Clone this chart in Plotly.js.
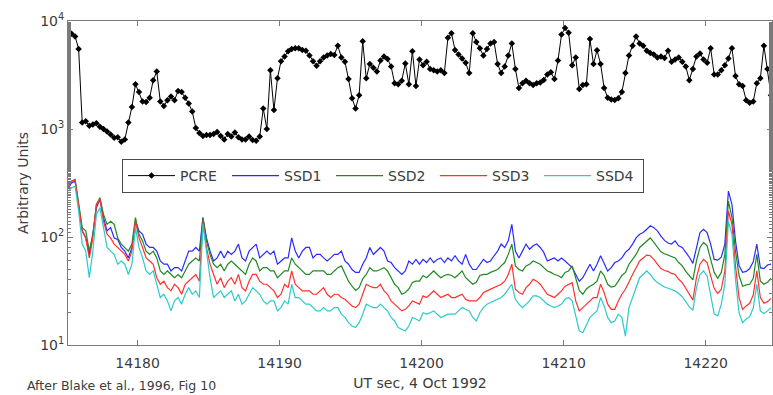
<!DOCTYPE html>
<html>
<head>
<meta charset="utf-8">
<script src="https://cdn.plot.ly/plotly-3.0.1.min.js"></script>
<style>
  html, body { margin: 0; padding: 0; background: #fff; }
  #chart { width: 773px; height: 395px; }
</style>
</head>
<body>
<div id="chart"></div>
<script>
// Sample clock: UT seconds on 4 Oct 1992, one sample every 0.25 s
const startTime = 14175.1;
const sampleStep = 0.25;

// PCRE count rate (arbitrary units)
const pcre = [
  7500,7600,7200,5500,1150,1180,1070,1100,1130,1050,
  1000,950,890,830,840,760,800,1150,1600,2600,
  2200,1800,1780,1950,2830,3400,1800,1630,1850,2000,
  1850,2250,2200,1950,1720,1450,1020,920,860,880,
  880,900,940,860,800,900,850,930,840,800,
  800,850,790,780,850,1550,1000,3500,1500,2950,
  4250,4700,5250,5500,5600,5600,5400,5300,4800,4250,
  3850,4250,4600,4800,4950,4850,5900,4600,4200,2900,
  1930,1550,2050,6500,2950,4000,3700,3400,4300,4700,
  4450,3800,2650,2600,2800,4050,2600,5250,2500,4400,
  3900,4200,3600,3500,3400,3500,3300,7000,7700,5400,
  4900,4500,4100,3300,7700,6400,5600,4800,5500,6200,
  6400,4000,3300,3800,4800,6200,3600,2400,2650,2800,
  2650,2550,2650,2700,2850,3200,3350,2900,4300,7500,
  8600,7800,3900,4600,2350,2550,2600,6800,4000,5360,
  4000,2400,1950,1880,1860,1930,2200,3300,4800,5900,
  7200,6200,5900,5300,5050,4900,4600,4700,4550,5300,
  4200,4400,4600,4200,3800,2830,3600,4700,5000,4400,
  4100,5600,3200,3200,3500,3900,4500,5600,3100,2600,
  2500,1850,1750,1800,2650,2950,5900,3600,2050
];

// Solid-state detector channels (arbitrary units)
const ssd1 = [
  285,317,329,200,114,98,69,106,186,223,
  151,114,122,98,95,80,74,64,80,140,
  114,106,86,80,80,74,60,56,56,48.5,
  52,52,48.5,60,74,74,80,74,151,98,
  74,60,64,74,64,74,69,74,86,64,
  60,74,80,86,64,69,74,69,74,56,
  60,64,64,98,74,64,74,80,80,64,
  69,69,64,60,64,69,69,74,60,56,
  50,47,47,56,64,80,69,74,80,74,
  60,58,52,48.5,45,48.5,60,56,62,56,
  62,58,64,58,62,64,58,64,60,67,
  60,56,69,56,50,50,56,62,58,60,
  67,74,86,80,92,131,74,64,74,86,
  77,83,86,80,72,60,62,64,60,64,
  60,56,52,45,39,42,48.5,56,48.5,56,
  67,56,48.5,52,58,60,64,72,77,86,
  98,106,110,118,127,122,114,102,93,88,
  86,92,83,80,73,65,57,80,110,118,
  110,86,62,61,65,86,266,200,92,54,
  47,48,51,59,86,52,51,55,56
];

const ssd2 = [
  295,329,341,207,122,114,74,106,200,231,
  162,131,140,131,98,86,80,74,86,151,
  106,92,74,69,74,64,48.5,45,48.5,45,
  42,45,42,48.5,56,60,64,60,151,92,
  69,56,52,56,48.5,56,60,56,52,48.5,
  45,56,64,60,48.5,52,52,48.5,48.5,42,
  45,48.5,48.5,64,56,52,48.5,45,45,48.5,
  48.5,48.5,48.5,45,45,48.5,52,54,45,39,
  35,32,34,41,45,52,48.5,48.5,50,52,
  48.5,42,36.5,34,29.5,30.6,33,38,39,39,
  44,42,45,48.5,45,42,44,45,44,42,
  45,48.5,42,39,36.5,38,44,45,45,47,
  48.5,50,54,58,69,86,54,50,48.5,54,
  56,60,58,56,52,48.5,47,45,44,42,
  47,48.5,54,42,32,29.5,33,35,36.5,39,
  48.5,44,36.5,34.4,35,39,44,47,56,62,
  69,80,86,93,98,89,80,73,70,68,
  65,64,58,54,48,44,40,60,80,89,
  83,62,47,41.5,47,69,215,151,74,44,
  35,36,36.5,41.5,69,39,36.5,38,41.5
];

const ssd3 = [
  295,329,334,200,114,98,64,98,200,223,
  140,106,98,86,80,74,69,60,74,140,
  98,80,64,60,56,42,36.5,39,34,31.7,
  36.5,34,29.5,36.5,39,42,45,39,140,80,
  56,45,36.5,42,34,39,42,36.5,45,34,
  31.7,39,45,45,39,36.5,36.5,34,31.7,27.5,
  29.5,36.5,34,48.5,36.5,34,31.7,31.7,31.7,29.5,
  29.5,31.7,34,29.5,27.5,29.5,29.5,27.5,26.5,24.7,
  23,22.2,23.9,29.5,36.5,35,34,34,36.5,31.7,
  29.5,25.6,23.9,22.2,20.7,21.4,23,25.6,24.7,23.9,
  28.5,27.5,29.5,31.7,29.5,27.5,28.5,29.5,27.5,27.5,
  28.5,29.5,26.5,25.6,25.6,25.6,27.5,30.6,31.7,32.8,
  34,35,36.5,39,45,56,32.8,30.6,29.5,34,
  36.5,40.6,39,36.5,32.8,29.5,28.5,27.5,29.5,31.7,
  35,36.5,37.8,25.6,20.7,22.2,23.9,25.6,27.5,27.5,
  36.5,30.6,23.9,21.4,21.4,25.6,29.5,32.8,39,45,
  52,60,64,68,67,62,56,51,49,48,
  46,45,40.6,37.8,33.5,29.5,26,42,56,62,
  58,43.6,33.5,30,32.8,48.5,174,131,54,27.5,
  21.4,23,24.3,29,48.5,27.5,24.3,25.2,27
];

const ssd4 = [
  266,285,295,174,86,74,42,74,162,186,
  122,80,74,69,56,60,56,45,56,122,
  80,64,48.5,45,48.5,36.5,27.5,29.5,25.6,20.7,
  25.6,27.5,23.9,29.5,34,29.5,31.7,27.5,131,74,
  42,27.5,29.5,31.7,27.5,29.5,31.7,25.6,29.5,23.9,
  25.6,29.5,34,31.7,29.5,25.6,23.9,25.6,25.6,20.7,
  22.2,25.6,23.9,36.5,27.5,27.5,25.6,23.9,23.9,22.2,
  20.7,20.7,22.2,20.7,20.7,22.2,22.2,19.3,18,16.1,
  15,14.5,16.1,19.3,23.9,23,22.2,22.2,23.9,22.2,
  20.7,18,16.7,14.5,14,13.5,15,18,17.4,16.7,
  19.9,19.3,19.9,20.7,19.3,18,18.6,19.3,19.3,19.3,
  20.7,22.2,21.4,20.7,18,16.7,19.9,22.2,23.9,24.7,
  25.6,26.5,27.5,29.5,32.8,36.5,26.5,23.9,22.2,23.9,
  25.6,28.5,28.5,27.5,25.6,23.9,23,22.2,23,23.9,
  26.5,27.5,25.6,18.6,13.5,13,15.6,18,19.3,20.7,
  27.5,23,18,16.1,16.7,19.3,18,12.1,22.2,27.5,
  34,42,45,48.5,45,40.6,37.8,36,34.4,33.5,
  32.3,31.7,30,28,25.2,22.5,21,34,45,48.5,
  43.6,28.5,19.3,18.6,23.9,36.5,140,106,40.6,19.9,
  16.1,17.4,18.3,22,36.5,20.7,19.6,20.7,22.2
];

// Axis ticks
const xTickVals = [14180, 14190, 14200, 14210, 14220];
const xTickText = ['14180', '14190', '14200', '14210', '14220'];
const yTickVals = [10, 100, 1000, 10000];
const yTickText = ['10<sup>1</sup>', '10<sup>2</sup>', '10<sup>3</sup>', '10<sup>4</sup>'];

const seriesNames = ['PCRE', 'SSD1', 'SSD2', 'SSD3', 'SSD4'];

const times = pcre.map((_, i) => startTime + i * sampleStep);

const textColor = '#3c3c3c';
const axisColor = '#7a7a7a';
const fontFamily = 'DejaVu Sans, Liberation Sans, sans-serif';

const traces = [
  {
    x: times, y: pcre, name: seriesNames[0], type: 'scatter', mode: 'lines+markers',
    line: { color: '#000000', width: 1 },
    marker: { color: '#000000', size: 5, symbol: 'diamond' }
  },
  { x: times, y: ssd1, name: seriesNames[1], type: 'scatter', mode: 'lines', line: { color: '#2a2aff', width: 1.2 } },
  { x: times, y: ssd2, name: seriesNames[2], type: 'scatter', mode: 'lines', line: { color: '#1f8a1f', width: 1.2 } },
  { x: times, y: ssd3, name: seriesNames[3], type: 'scatter', mode: 'lines', line: { color: '#ff3030', width: 1.2 } },
  { x: times, y: ssd4, name: seriesNames[4], type: 'scatter', mode: 'lines', line: { color: '#2ccaca', width: 1.2 } }
];

const layout = {
  width: 773,
  height: 395,
  margin: { l: 68, r: 1, t: 21, b: 50 },
  paper_bgcolor: '#ffffff',
  plot_bgcolor: '#ffffff',
  font: { family: fontFamily, size: 14, color: textColor },
  showlegend: true,
  legend: {
    orientation: 'h',
    x: 0.0767, xanchor: 'left',
    y: 0.574, yanchor: 'top',
    bgcolor: '#ffffff',
    bordercolor: '#4a4a4a',
    borderwidth: 1,
    itemwidth: 47,
    entrywidth: 42,
    entrywidthmode: 'pixels',
    font: { family: fontFamily, size: 14, color: textColor }
  },
  xaxis: {
    range: [14175.1, 14224.67],
    tickvals: xTickVals,
    ticktext: xTickText,
    ticks: 'inside',
    ticklen: 5,
    tickcolor: axisColor,
    ticklabelstandoff: 5,
    showline: true,
    linecolor: axisColor,
    linewidth: 1,
    mirror: 'allticks',
    showgrid: false,
    zeroline: false,
    tickfont: { family: fontFamily, size: 14, color: textColor },
    title: { text: 'UT sec, 4 Oct 1992', font: { family: fontFamily, size: 14, color: textColor }, standoff: 8 }
  },
  yaxis: {
    type: 'log',
    range: [1, 4],
    tickvals: yTickVals,
    ticktext: yTickText,
    ticks: 'inside',
    ticklen: 5,
    tickcolor: axisColor,
    showline: true,
    linecolor: axisColor,
    linewidth: 1,
    mirror: 'allticks',
    showgrid: false,
    zeroline: false,
    tickfont: { family: fontFamily, size: 14, color: textColor },
    minor: { ticks: 'inside', ticklen: 3, tickcolor: axisColor, showgrid: false },
    title: { text: 'Arbitrary Units', font: { family: fontFamily, size: 14, color: textColor }, standoff: 8 }
  },
  annotations: [
    {
      text: 'After Blake et al., 1996, Fig 10',
      xref: 'paper', yref: 'paper',
      x: -0.0611, xanchor: 'left',
      y: -0.1235, yanchor: 'middle',
      showarrow: false,
      font: { family: fontFamily, size: 12.5, color: textColor }
    }
  ]
};

Plotly.newPlot('chart', traces, layout, { staticPlot: true, displayModeBar: false });
</script>
</body>
</html>
